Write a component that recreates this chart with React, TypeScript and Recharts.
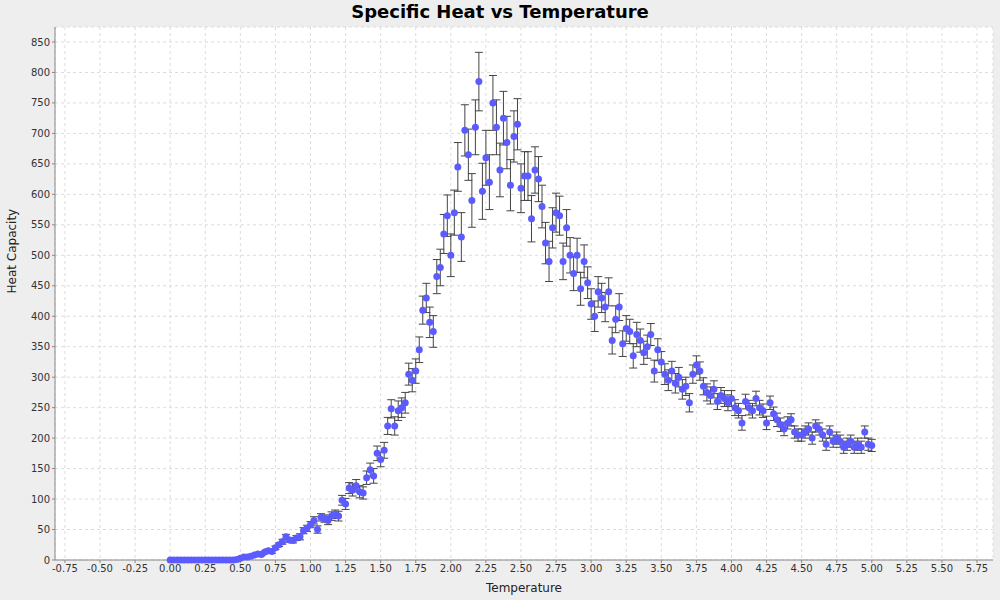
import { ScatterChart, Scatter, XAxis, YAxis, CartesianGrid, ErrorBar } from 'recharts';

// heat capacity readings, one every 0.025 from 0.0 to 5.0
const heat = [
  0, 0, 0, 0, 0, 0, 0, 0, 0, 0, 0, 0, 0, 0, 0, 0, 0, 0, 0,
  1, 3, 5, 5, 6, 8, 10, 9, 13, 15, 14, 20, 25, 30, 38, 33, 32, 36, 38, 48, 52,
  58, 65, 50, 70, 68, 65, 72, 75, 72, 98, 92, 118, 115, 122, 112, 110, 135, 148, 138, 175,
  165, 180, 220, 248, 220, 245, 250, 258, 305, 295, 310, 345, 410, 430, 390, 375, 465, 480, 535, 565,
  500, 570, 645, 530, 705, 665, 590, 710, 785, 605, 660, 620, 750, 710, 640, 725, 685, 615, 695, 715,
  610, 630, 630, 560, 640, 625, 580, 520, 490, 545, 570, 565, 490, 545, 500, 470, 500, 445, 490, 455,
  420, 400, 440, 430, 415, 440, 360, 395, 415, 355, 380, 375, 335, 370, 360, 340, 350, 370, 310, 345,
  325, 305, 295, 310, 290, 300, 280, 285, 258, 305, 320, 310, 285, 275, 270, 280, 260, 270, 265, 258,
  265, 250, 245, 225, 260, 250, 245, 265, 250, 245, 225, 258, 240, 230, 222, 215, 225, 230, 210, 205,
  205, 210, 215, 200, 220, 215, 205, 190, 210, 195, 200, 195, 185, 190, 195, 185, 190, 185, 210, 190, 188,
];

const errs = [
  0, 0, 0, 0, 0, 0, 0, 0, 0, 0, 0, 0, 0, 0, 0, 0, 0, 0, 0,
  1, 1, 1, 1, 2, 2, 2, 2, 2, 3, 3, 3, 3, 4, 4, 4, 4, 4, 5, 5, 5,
  5, 6, 6, 6, 6, 7, 7, 7, 8, 8, 9, 9, 10, 10, 10, 10, 11, 11, 12, 12,
  12, 13, 14, 15, 15, 16, 16, 17, 18, 19, 20, 21, 23, 24, 25, 26, 28, 30, 32, 34,
  35, 37, 40, 40, 42, 42, 44, 45, 48, 46, 45, 45, 45, 45, 44, 44, 43, 42, 42, 42,
  40, 40, 40, 38, 38, 37, 35, 34, 33, 33, 32, 32, 30, 30, 29, 28, 28, 27, 27, 26,
  25, 25, 25, 24, 24, 23, 22, 22, 22, 21, 21, 20, 20, 20, 19, 19, 19, 18, 18, 18,
  17, 17, 17, 16, 16, 16, 16, 15, 15, 15, 15, 15, 14, 14, 14, 14, 13, 13, 13, 13,
  13, 13, 12, 12, 12, 12, 12, 12, 12, 11, 11, 11, 11, 11, 11, 11, 10, 10, 10, 10,
  10, 10, 10, 10, 10, 10, 10, 10, 10, 10, 10, 10, 10, 10, 10, 10, 10, 10, 10, 10, 10,
];

const temps = heat.map((_, i) => Math.round(i * 25) / 1000);

const xTicks = [-0.75, -0.5, -0.25, 0, 0.25, 0.5, 0.75, 1, 1.25, 1.5, 1.75, 2, 2.25, 2.5, 2.75, 3, 3.25, 3.5, 3.75, 4, 4.25, 4.5, 4.75, 5, 5.25, 5.5, 5.75];
const yTicks = [0, 50, 100, 150, 200, 250, 300, 350, 400, 450, 500, 550, 600, 650, 700, 750, 800, 850];

const data = temps.map((t, i) => ({ t, c: heat[i], err: errs[i] }));

const Dot = (p: any) => <circle cx={p.cx} cy={p.cy} r={3.5} fill="#5b5bff" />;

export default function App() {
  const tick = { fill: '#333', fontSize: 10, fontFamily: 'DejaVu Sans' };
  return (
    <div style={{ position: 'absolute', left: 0, top: 0, width: 1000, height: 600, background: '#eeeeee', fontFamily: 'DejaVu Sans' }}>
      <div style={{ position: 'absolute', top: 0, width: 1000, textAlign: 'center', fontSize: 18, fontWeight: 700, lineHeight: '24px' }}>
        Specific Heat vs Temperature
      </div>
      <ScatterChart width={1000} height={600} margin={{ top: 27, right: 7, bottom: 0, left: 0 }}>
        <CartesianGrid fill="#ffffff" stroke="#dcdcdc" strokeDasharray="3 3" />
        <XAxis
          type="number"
          dataKey="t"
          domain={[-0.821, 5.864]}
          ticks={xTicks}
          tickFormatter={(v: number) => v.toFixed(2)}
          tick={tick}
          height={40}
          stroke="#888"
          tickSize={3}
          interval={0}
          label={{ value: 'Temperature', position: 'insideBottom', offset: 8, fill: '#222', fontSize: 12 }}
        />
        <YAxis
          type="number"
          dataKey="c"
          domain={[0, 874.6]}
          ticks={yTicks}
          tick={tick}
          width={55}
          stroke="#888"
          tickSize={3}
          interval={0}
          label={{ value: 'Heat Capacity', angle: -90, position: 'insideLeft', offset: 12, fill: '#222', fontSize: 12 }}
        />
        <Scatter data={data} shape={Dot} isAnimationActive={false}>
          <ErrorBar dataKey="err" direction="y" width={4} stroke="#444" strokeWidth={1} />
        </Scatter>
      </ScatterChart>
    </div>
  );
}
